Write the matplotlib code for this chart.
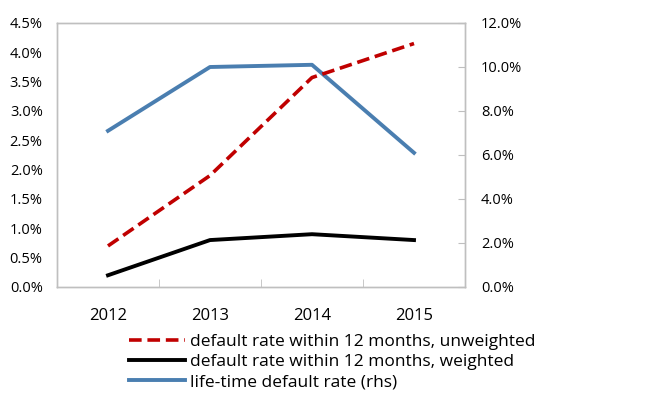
import matplotlib.pyplot as plt
from matplotlib.ticker import FuncFormatter, MultipleLocator, FixedLocator

plt.rcParams['font.family'] = ['Open Sans', 'DejaVu Sans']

years = ["2012", "2013", "2014", "2015"]
unweighted = [0.7, 1.9, 3.57, 4.15]   # % lhs
weighted = [0.2, 0.8, 0.9, 0.8]       # % lhs
lifetime = [7.1, 10.0, 10.1, 6.1]     # % rhs

labels = ["default rate within 12 months, unweighted",
          "default rate within 12 months, weighted",
          "life-time default rate (rhs)"]

RED = "#C00000"
BLUE = "#4A7EB0"
GRID = "#BFBFBF"

fig, ax = plt.subplots(figsize=(6.47, 3.94), dpi=100)
fig.subplots_adjust(left=57/647, right=465/647, top=1-23/394, bottom=1-287/394)
ax2 = ax.twinx()

x = range(len(years))
l1, = ax.plot(x, unweighted, color=RED, lw=2.6, ls=(0, (3.5, 1.6)), label=labels[0])
l2, = ax.plot(x, weighted, color="black", lw=2.8, label=labels[1])
l3, = ax2.plot(x, lifetime, color=BLUE, lw=2.8, label=labels[2])
ax.set_zorder(ax2.get_zorder() + 1)
ax.patch.set_visible(False)

ax.set_xlim(-0.5, 3.5)
ax.set_ylim(0, 4.5)
ax2.set_ylim(0, 12)
ax.yaxis.set_major_locator(MultipleLocator(0.5))
ax2.yaxis.set_major_locator(MultipleLocator(2))
ax.yaxis.set_major_formatter(FuncFormatter(lambda v, p: f"{v:.1f}%"))
ax2.yaxis.set_major_formatter(FuncFormatter(lambda v, p: f"{v:.1f}%"))

ax.set_xticks(list(x))
ax.set_xticklabels(years)
ax.xaxis.set_minor_locator(FixedLocator([0.5, 1.5, 2.5]))
ax.tick_params(axis="x", which="major", length=0, pad=15, labelsize=12)
ax.tick_params(axis="x", which="minor", direction="in", length=6, color=GRID)
ax.tick_params(axis="y", length=0, pad=10.3, labelsize=10.5)
ax2.tick_params(axis="y", direction="in", length=5, color=GRID, pad=11.5, labelsize=10.5)

for a in (ax, ax2):
    for s in a.spines.values():
        s.set_color(GRID)
        s.set_linewidth(1.0)

fig.legend(handles=[l1, l2, l3], loc="upper left", bbox_to_anchor=(129/647, 1-334/394),
           frameon=False, fontsize=12.5, handlelength=3.2, handletextpad=0.3,
           labelspacing=0.22, borderpad=0, borderaxespad=0)

fig.savefig("out.png", dpi=100)
